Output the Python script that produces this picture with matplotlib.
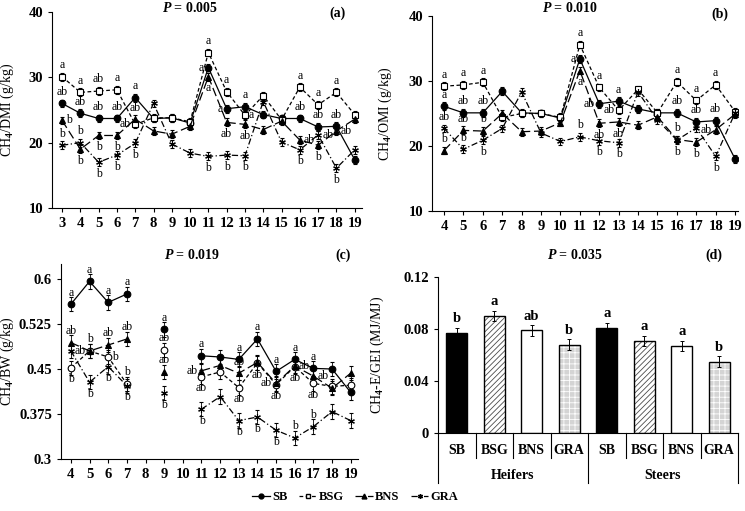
import numpy as np
import matplotlib
matplotlib.use("Agg")
import matplotlib.pyplot as plt
from matplotlib.lines import Line2D

plt.rcParams["font.family"] = "Liberation Serif"
plt.rcParams["font.weight"] = "bold"
plt.rcParams["mathtext.fontset"] = "custom"
plt.rcParams["mathtext.rm"] = "Liberation Serif:bold"
plt.rcParams["mathtext.bf"] = "Liberation Serif:bold"
plt.rcParams["mathtext.it"] = "Liberation Serif:italic:bold"
plt.rcParams["hatch.linewidth"] = 0.6

nan = np.nan
treatments = ["SB", "BSG", "BNS", "GRA"]

# ---- (a) CH4/DMI, days 3-19
days_a = list(range(3, 20))
a_SB = [26.0, 24.5, 23.7, 23.7, 26.9, 23.7, 23.8, 23.0, 31.5, 25.2, 25.5, 24.3, 23.7, 23.7, 22.4, 22.5, 17.4]
a_BSG = [30.1, 27.7, 27.9, 28.1, 22.8, 23.8, 23.8, 23.2, 33.8, 27.8, 24.2, 27.2, 23.5, 28.5, 25.8, 27.7, 24.3]
a_BNS = [23.4, 19.0, 21.1, 21.1, 23.6, 21.8, 21.3, 22.5, 30.1, 23.1, 22.8, 22.0, 23.3, 20.4, 19.6, 21.8, 23.6]
a_GRA = [19.6, 20.0, 17.0, 18.1, 19.9, 26.0, 19.8, 18.4, 17.9, 18.1, 18.0, 26.3, 20.1, 18.9, 21.2, 16.1, 18.9]
a_let = {
    "SB":  ["ab", "ab", "ab", "ab", "a", "", "", "", "a", "a", "a", "", "", "ab", "ab", "ab", ""],
    "BSG": ["a", "a", "ab", "a", "ab", "", "", "", "a", "a", "a", "", "", "a", "a", "a", ""],
    "BNS": ["b", "b", "b", "b", "ab", "", "", "", "a", "ab", "ab", "", "", "ab", "b", "ab", ""],
    "GRA": ["b", "b", "b", "b", "b", "", "", "", "b", "b", "b", "", "", "b", "ab", "b", ""],
}
a_pos = {
    "SB":  "uuuuu   llu  uuu ",
    "BSG": "uuuul   uur  uuu ",
    "BNS": "rdddu   ddd  rdr ",
    "GRA": "uuddd   ddd  drd ",
}

# ---- (b) CH4/OMI, days 4-19
days_b = list(range(4, 20))
b_SB = [26.1, 25.1, 25.1, 28.4, 25.1, 25.0, 24.3, 33.4, 26.5, 26.9, 25.7, 25.1, 25.1, 23.7, 23.9, 18.0]
b_BSG = [29.2, 29.4, 29.8, 24.4, 25.0, 25.0, 24.4, 35.6, 29.0, 25.5, 28.7, 25.1, 29.9, 27.0, 29.4, 25.3]
b_BNS = [19.3, 22.4, 22.3, 25.0, 22.2, 22.3, 23.6, 31.6, 23.5, 23.7, 23.2, 24.5, 21.0, 20.6, 22.5, 24.9]
b_GRA = [22.7, 19.5, 20.9, 22.7, 28.3, 22.0, 20.7, 21.4, 20.8, 20.5, 28.3, 24.0, 20.9, 22.8, 18.4, 25.1]
b_let = {
    "SB":  ["a", "ab", "ab", "", "", "", "", "a", "ab", "a", "", "", "ab", "ab", "ab", ""],
    "BSG": ["a", "a", "a", "", "", "", "", "a", "a", "ab", "", "", "a", "a", "a", ""],
    "BNS": ["b", "ab", "b", "", "", "", "", "a", "ab", "ab", "", "", "b", "b", "ab", ""],
    "GRA": ["ab", "b", "b", "", "", "", "", "b", "b", "b", "", "", "b", "", "b", ""],
}
b_pos = {
    "SB":  "uuu    llu  uuu ",
    "BSG": "uuu    uul  uuu ",
    "BNS": "uuu    ddd  udl ",
    "GRA": "uud    udd  d d ",
}

# ---- (c) CH4/BW, days 4-19 (no data on days 8 and 10)
days_c = list(range(4, 20))
c_SB = [0.558, 0.596, 0.561, 0.575, nan, 0.516, nan, 0.472, 0.470, 0.466, 0.500, 0.446, 0.466, 0.451, 0.450, 0.411]
c_BSG = [0.452, 0.480, 0.470, 0.425, nan, 0.482, nan, 0.437, 0.445, 0.419, 0.460, 0.424, 0.454, 0.426, 0.421, 0.423]
c_BNS = [0.494, 0.480, 0.490, 0.500, nan, 0.445, nan, 0.447, 0.456, 0.443, 0.461, 0.426, 0.455, 0.438, 0.418, 0.443]
c_GRA = [0.480, 0.428, 0.454, 0.422, nan, 0.410, nan, 0.383, 0.404, 0.364, 0.370, 0.348, 0.335, 0.354, 0.379, 0.364]
c_let = {
    "SB":  ["a", "a", "a", "a", "", "a", "", "a", "", "a", "a", "a", "a", "a", "", ""],
    "BSG": ["b", "ab", "b", "b", "", "ab", "", "ab", "", "ab", "ab", "ab", "ab", "ab", "", ""],
    "BNS": ["ab", "b", "ab", "ab", "", "ab", "", "ab", "", "ab", "", "ab", "ab", "ab", "", ""],
    "GRA": ["", "b", "b", "b", "", "b", "", "b", "", "b", "b", "b", "b", "b", "", ""],
}
c_pos = {
    "SB":  "uuuu u u uuuuu  ",
    "BSG": "dlru u d ddddd  ",
    "BNS": "uuuu u l u lrr  ",
    "GRA": " ddd d d ddduu  ",
}

# ---- (d) CH4-E/GEI bars
d_groups = ["Heifers", "Steers"]
d_values = [0.077, 0.090, 0.079, 0.068, 0.081, 0.071, 0.067, 0.055]
d_err = [0.004, 0.004, 0.004, 0.004, 0.004, 0.004, 0.004, 0.004]
d_letters = ["b", "a", "ab", "b", "a", "a", "a", "b"]

styles = {
    "SB": dict(ls="-", marker="o", mfc="black"),
    "BSG": dict(ls=(0, (3, 2)), marker="s", mfc="white"),
    "BNS": dict(ls=(0, (7, 3)), marker="^", mfc="black"),
    "GRA": dict(ls=(0, (5, 2, 1, 2)), marker=(6, 2, 0), mfc="black"),
}
offsets = {"u": ((0, 4), "center", "bottom"), "d": ((0, -4), "center", "top"),
           "l": ((-3, 0), "right", "center"), "r": ((3, 0), "left", "center")}


def line_panel(ax, days, series, letters, pos, sem, bsg_marker="s"):
    for name, vals in zip(treatments, series):
        st = dict(styles[name])
        if name == "BSG":
            st["marker"] = bsg_marker
        ax.errorbar(days, vals, yerr=sem, color="black", lw=0.9, ls=st["ls"],
                    marker=st["marker"], ms=4.8, mfc=st["mfc"], mec="black", mew=0.8,
                    ecolor="black", elinewidth=0.6, capsize=1.5, capthick=0.6)
        for d, v, t, p in zip(days, vals, letters[name], pos[name]):
            if t and p.strip():
                off, ha, va = offsets[p]
                ax.annotate(t, (d, v), xytext=off, textcoords="offset points",
                            ha=ha, va=va, fontsize=8.5, fontweight="normal")
    ax.spines["top"].set_visible(False)
    ax.spines["right"].set_visible(False)
    ax.set_xticks(days)
    ax.tick_params(direction="out", length=3, labelsize=10.5, width=0.8)


fig = plt.figure(figsize=(7.45, 5.11), dpi=100)
W, H = 745, 511


def box(l, r, t, b):
    return [l / W, 1 - b / H, (r - l) / W, (b - t) / H]


# (a)
ax = fig.add_axes(box(52, 362, 12, 208))
line_panel(ax, days_a, [a_SB, a_BSG, a_BNS, a_GRA], a_let, a_pos, 0.6)
ax.set_xlim(2.45, 19.4)
ax.set_ylim(10, 40)
ax.set_yticks([10, 20, 30, 40])
ax.set_ylabel("CH$_4$/DMI (g/kg)", fontsize=10)
ax.yaxis.set_label_coords(-0.115, 0.5)
ax.text(0.445, 1.02, "$P$ = 0.005", transform=ax.transAxes, ha="center", va="center", fontsize=10)
ax.text(0.92, 0.995, "(a)", transform=ax.transAxes, ha="center", va="center", fontsize=10)

# (b)
ax = fig.add_axes(box(432, 738, 16, 211))
line_panel(ax, days_b, [b_SB, b_BSG, b_BNS, b_GRA], b_let, b_pos, 0.6)
ax.set_xlim(3.38, 19.15)
ax.set_ylim(10, 40)
ax.set_yticks([10, 20, 30, 40])
ax.set_ylabel("CH$_4$/OMI (g/kg)", fontsize=10)
ax.yaxis.set_label_coords(-0.125, 0.5)
ax.text(0.45, 1.04, "$P$ = 0.010", transform=ax.transAxes, ha="center", va="center", fontsize=10)
ax.text(0.94, 1.01, "(b)", transform=ax.transAxes, ha="center", va="center", fontsize=10)

# (c)
ax = fig.add_axes(box(61, 358, 264, 459))
line_panel(ax, days_c, [c_SB, c_BSG, c_BNS, c_GRA], c_let, c_pos, 0.012, bsg_marker="o")
ax.set_xlim(3.47, 19.39)
ax.set_ylim(0.3, 0.625)
ax.set_yticks([0.3, 0.375, 0.45, 0.525, 0.6])
ax.set_yticklabels(["0.3", "0.375", "0.45", "0.525", "0.6"])
ax.set_ylabel("CH$_4$/BW (g/kg)", fontsize=10)
ax.yaxis.set_label_coords(-0.15, 0.5)
ax.text(0.44, 1.046, "$P$ = 0.019", transform=ax.transAxes, ha="center", va="center", fontsize=10)
ax.text(0.95, 1.046, "(c)", transform=ax.transAxes, ha="center", va="center", fontsize=10)

# (d)
ax = fig.add_axes(box(438, 738, 277, 433))
x = np.arange(len(d_values))
fills = ["black", "white", "white", "#d4d4d4"] * 2
hatches = ["", "//////", "", "+++"] * 2
hcols = ["black", "#4a4a4a", "white", "white"] * 2
for xi, v, f, h, hc in zip(x, d_values, fills, hatches, hcols):
    ax.bar(xi, v, width=0.55, color=f, hatch=h, edgecolor=hc, lw=0)
ax.bar(x, d_values, width=0.55, fill=False, edgecolor="black", lw=1)
ax.errorbar(x, d_values, yerr=d_err, fmt="none", ecolor="black", elinewidth=0.7,
            capsize=1.5, capthick=0.7)
for xi, v, e, t in zip(x, d_values, d_err, d_letters):
    ax.text(xi, v + e + 0.002, t, ha="center", va="bottom", fontsize=10.5)
ax.set_xlim(-0.5, 7.5)
ax.set_ylim(0, 0.12)
ax.set_yticks([0, 0.04, 0.08, 0.12])
ax.set_yticklabels(["0", "0.04", "0.08", "0.12"])
ax.set_xticks([])
ax.spines["top"].set_visible(False)
ax.spines["right"].set_visible(False)
ax.tick_params(direction="out", length=3, labelsize=10.5, width=0.8)
trans = ax.get_xaxis_transform()
for xi, name in zip(x, treatments * 2):
    ax.text(xi, -0.115, name, transform=trans, ha="center", va="center", fontsize=10)
for b in np.arange(-0.5, 8, 1):
    low = -0.32 if b in (-0.5, 3.5, 7.5) else -0.16
    ax.plot([b, b], [0, low], transform=trans, color="black", lw=0.8, clip_on=False)
for gi, g in enumerate(d_groups):
    ax.text(1.5 + 4 * gi, -0.27, g, transform=trans, ha="center", va="center", fontsize=10)
ax.set_ylabel("CH$_4$-E/GEI (MJ/MJ)", fontsize=10)
ax.yaxis.set_label_coords(-0.175, 0.5)
ax.text(0.457, 1.141, "$P$ = 0.035", transform=ax.transAxes, ha="center", va="center", fontsize=10)
ax.text(0.92, 1.141, "(d)", transform=ax.transAxes, ha="center", va="center", fontsize=10)

handles = [Line2D([], [], color="black", lw=0.9, ls=styles[n]["ls"], marker=styles[n]["marker"],
                  ms=3.5, mfc=styles[n]["mfc"], mec="black") for n in treatments]
fig.legend(handles, treatments, loc="center", bbox_to_anchor=(0.477, 0.027), ncol=4,
           frameon=False, handlelength=1.4, handletextpad=0.2, columnspacing=0.9, fontsize=9)

fig.savefig("out.png", dpi=100)
